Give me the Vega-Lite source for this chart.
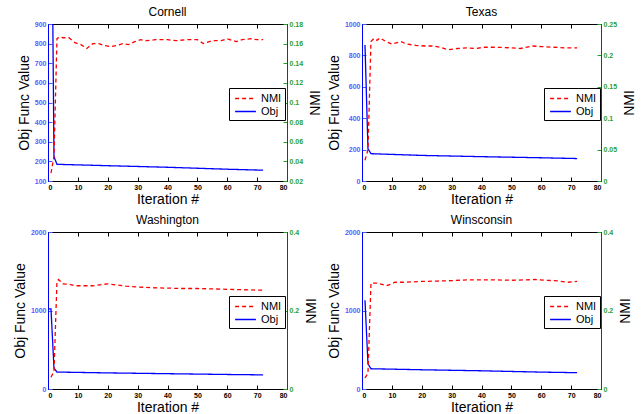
{
  "$schema": "https://vega.github.io/schema/vega-lite/v6.json",
  "padding": {"left": 12, "top": 5, "right": 0, "bottom": 0},
  "datasets": {
    "cornell": [
      {"iter": 1, "series": "Obj", "value": 2000}, {"iter": 2, "series": "Obj", "value": 224}, {"iter": 3, "series": "Obj", "value": 185},
      {"iter": 20, "series": "Obj", "value": 178}, {"iter": 40, "series": "Obj", "value": 170}, {"iter": 60, "series": "Obj", "value": 160}, {"iter": 72, "series": "Obj", "value": 155},
      {"iter": 1, "series": "NMI", "value": 0.028}, {"iter": 2, "series": "NMI", "value": 0.045}, {"iter": 3, "series": "NMI", "value": 0.165},
      {"iter": 4, "series": "NMI", "value": 0.167}, {"iter": 5, "series": "NMI", "value": 0.166}, {"iter": 7, "series": "NMI", "value": 0.166},
      {"iter": 9, "series": "NMI", "value": 0.161}, {"iter": 11, "series": "NMI", "value": 0.159}, {"iter": 13, "series": "NMI", "value": 0.155},
      {"iter": 15, "series": "NMI", "value": 0.16}, {"iter": 17, "series": "NMI", "value": 0.16}, {"iter": 19, "series": "NMI", "value": 0.158},
      {"iter": 21, "series": "NMI", "value": 0.157}, {"iter": 23, "series": "NMI", "value": 0.158}, {"iter": 25, "series": "NMI", "value": 0.16},
      {"iter": 27, "series": "NMI", "value": 0.159}, {"iter": 29, "series": "NMI", "value": 0.162}, {"iter": 31, "series": "NMI", "value": 0.164},
      {"iter": 33, "series": "NMI", "value": 0.163}, {"iter": 36, "series": "NMI", "value": 0.164}, {"iter": 40, "series": "NMI", "value": 0.164},
      {"iter": 43, "series": "NMI", "value": 0.163}, {"iter": 46, "series": "NMI", "value": 0.164}, {"iter": 50, "series": "NMI", "value": 0.164},
      {"iter": 52, "series": "NMI", "value": 0.16}, {"iter": 55, "series": "NMI", "value": 0.163}, {"iter": 58, "series": "NMI", "value": 0.163},
      {"iter": 60, "series": "NMI", "value": 0.165}, {"iter": 63, "series": "NMI", "value": 0.162}, {"iter": 65, "series": "NMI", "value": 0.164},
      {"iter": 68, "series": "NMI", "value": 0.165}, {"iter": 70, "series": "NMI", "value": 0.164}, {"iter": 72, "series": "NMI", "value": 0.164}
    ],
    "texas": [
      {"iter": 1, "series": "Obj", "value": 866}, {"iter": 2, "series": "Obj", "value": 205}, {"iter": 3, "series": "Obj", "value": 174},
      {"iter": 20, "series": "Obj", "value": 163}, {"iter": 40, "series": "Obj", "value": 155}, {"iter": 60, "series": "Obj", "value": 148}, {"iter": 72, "series": "Obj", "value": 143},
      {"iter": 1, "series": "NMI", "value": 0.033}, {"iter": 2, "series": "NMI", "value": 0.05}, {"iter": 3, "series": "NMI", "value": 0.222},
      {"iter": 4, "series": "NMI", "value": 0.227}, {"iter": 5, "series": "NMI", "value": 0.224}, {"iter": 6, "series": "NMI", "value": 0.228},
      {"iter": 8, "series": "NMI", "value": 0.222}, {"iter": 10, "series": "NMI", "value": 0.218}, {"iter": 13, "series": "NMI", "value": 0.222},
      {"iter": 15, "series": "NMI", "value": 0.218}, {"iter": 18, "series": "NMI", "value": 0.216}, {"iter": 21, "series": "NMI", "value": 0.215},
      {"iter": 24, "series": "NMI", "value": 0.215}, {"iter": 26, "series": "NMI", "value": 0.213}, {"iter": 29, "series": "NMI", "value": 0.209},
      {"iter": 32, "series": "NMI", "value": 0.211}, {"iter": 35, "series": "NMI", "value": 0.212}, {"iter": 38, "series": "NMI", "value": 0.211},
      {"iter": 41, "series": "NMI", "value": 0.213}, {"iter": 45, "series": "NMI", "value": 0.213}, {"iter": 50, "series": "NMI", "value": 0.212},
      {"iter": 53, "series": "NMI", "value": 0.211}, {"iter": 57, "series": "NMI", "value": 0.215}, {"iter": 60, "series": "NMI", "value": 0.214},
      {"iter": 64, "series": "NMI", "value": 0.213}, {"iter": 68, "series": "NMI", "value": 0.212}, {"iter": 72, "series": "NMI", "value": 0.212}
    ],
    "washington": [
      {"iter": 0.3, "series": "Obj", "value": 1020}, {"iter": 1, "series": "Obj", "value": 1020}, {"iter": 2, "series": "Obj", "value": 265}, {"iter": 3, "series": "Obj", "value": 216},
      {"iter": 20, "series": "Obj", "value": 205}, {"iter": 40, "series": "Obj", "value": 195}, {"iter": 60, "series": "Obj", "value": 185}, {"iter": 72, "series": "Obj", "value": 180},
      {"iter": 1, "series": "NMI", "value": 0.03}, {"iter": 2, "series": "NMI", "value": 0.045}, {"iter": 3, "series": "NMI", "value": 0.274},
      {"iter": 3.5, "series": "NMI", "value": 0.279}, {"iter": 5, "series": "NMI", "value": 0.268}, {"iter": 7, "series": "NMI", "value": 0.267},
      {"iter": 9, "series": "NMI", "value": 0.263}, {"iter": 12, "series": "NMI", "value": 0.263}, {"iter": 15, "series": "NMI", "value": 0.263},
      {"iter": 18, "series": "NMI", "value": 0.266}, {"iter": 20, "series": "NMI", "value": 0.268}, {"iter": 23, "series": "NMI", "value": 0.265},
      {"iter": 26, "series": "NMI", "value": 0.262}, {"iter": 30, "series": "NMI", "value": 0.26}, {"iter": 35, "series": "NMI", "value": 0.258},
      {"iter": 40, "series": "NMI", "value": 0.257}, {"iter": 45, "series": "NMI", "value": 0.256}, {"iter": 50, "series": "NMI", "value": 0.256},
      {"iter": 55, "series": "NMI", "value": 0.255}, {"iter": 60, "series": "NMI", "value": 0.254}, {"iter": 65, "series": "NMI", "value": 0.253},
      {"iter": 70, "series": "NMI", "value": 0.252}, {"iter": 72, "series": "NMI", "value": 0.252}
    ],
    "winsconsin": [
      {"iter": 1, "series": "Obj", "value": 1130}, {"iter": 2, "series": "Obj", "value": 320}, {"iter": 3, "series": "Obj", "value": 258},
      {"iter": 20, "series": "Obj", "value": 245}, {"iter": 40, "series": "Obj", "value": 232}, {"iter": 60, "series": "Obj", "value": 215}, {"iter": 72, "series": "Obj", "value": 208},
      {"iter": 1, "series": "NMI", "value": 0.028}, {"iter": 2, "series": "NMI", "value": 0.04}, {"iter": 3, "series": "NMI", "value": 0.27},
      {"iter": 5, "series": "NMI", "value": 0.27}, {"iter": 7, "series": "NMI", "value": 0.266}, {"iter": 8, "series": "NMI", "value": 0.263},
      {"iter": 10, "series": "NMI", "value": 0.268}, {"iter": 11, "series": "NMI", "value": 0.272}, {"iter": 14, "series": "NMI", "value": 0.272},
      {"iter": 17, "series": "NMI", "value": 0.273}, {"iter": 20, "series": "NMI", "value": 0.274}, {"iter": 25, "series": "NMI", "value": 0.275},
      {"iter": 30, "series": "NMI", "value": 0.276}, {"iter": 35, "series": "NMI", "value": 0.278}, {"iter": 40, "series": "NMI", "value": 0.278},
      {"iter": 45, "series": "NMI", "value": 0.278}, {"iter": 50, "series": "NMI", "value": 0.277}, {"iter": 55, "series": "NMI", "value": 0.278},
      {"iter": 58, "series": "NMI", "value": 0.279}, {"iter": 62, "series": "NMI", "value": 0.277}, {"iter": 66, "series": "NMI", "value": 0.275},
      {"iter": 69, "series": "NMI", "value": 0.272}, {"iter": 72, "series": "NMI", "value": 0.274}
    ]
  },
  "columns": 2,
  "spacing": {"column": 75, "row": 51},
  "bounds": "flush",
  "resolve": {"scale": {"color": "independent", "strokeDash": "independent"}},
  "concat": [
    {
      "title": "Cornell", "width": 239, "height": 157, "data": {"name": "cornell"},
      "layer": [
        {"mark": {"type": "line", "clip": true, "strokeWidth": 1.3}, "transform": [{"filter": "datum.series === 'Obj'"}],
         "encoding": {
           "x": {"field": "iter", "type": "quantitative", "scale": {"domain": [0, 80], "nice": false}, "axis": {"values": [0, 10, 20, 30, 40, 50, 60, 70, 80], "title": "Iteration #"}},
           "y": {"field": "value", "type": "quantitative", "scale": {"domain": [100, 900], "nice": false, "zero": false}, "axis": {"values": [100, 200, 300, 400, 500, 600, 700, 800, 900], "format": "d", "title": "Obj Func Value", "domainColor": "#0000ff", "tickColor": "#5555ff", "labelColor": "#5a5aff"}},
           "color": {"field": "series", "type": "nominal", "scale": {"domain": ["NMI", "Obj"], "range": ["#ff0000", "#0000ff"]}, "legend": {"orient": "none", "legendX": 181, "legendY": 64, "title": null}},
           "strokeDash": {"field": "series", "type": "nominal", "scale": {"domain": ["NMI", "Obj"], "range": [[4, 3], [1, 0]]}, "legend": {"orient": "none", "legendX": 181, "legendY": 64, "title": null}}
         }},
        {"mark": {"type": "line", "clip": true, "strokeWidth": 1.3}, "transform": [{"filter": "datum.series === 'NMI'"}],
         "encoding": {
           "x": {"field": "iter", "type": "quantitative", "axis": {"orient": "top", "labels": false, "title": null, "domain": false, "values": [0, 10, 20, 30, 40, 50, 60, 70, 80]}},
           "y": {"field": "value", "type": "quantitative", "scale": {"domain": [0.02, 0.18], "nice": false, "zero": false}, "axis": {"orient": "right", "values": [0.02, 0.04, 0.06, 0.08, 0.1, 0.12, 0.14, 0.16, 0.18], "format": "~g", "title": "NMI", "titleAngle": 270, "titlePadding": 20, "domainColor": "#0b4f4f", "tickColor": "#2ca02c", "labelColor": "#2ca02c"}},
           "color": {"field": "series", "type": "nominal", "legend": {"orient": "none", "legendX": 181, "legendY": 64, "title": null}},
           "strokeDash": {"field": "series", "type": "nominal", "legend": {"orient": "none", "legendX": 181, "legendY": 64, "title": null}}
         }}
      ],
      "resolve": {"scale": {"y": "independent"}, "axis": {"x": "independent"}}
    },
    {
      "title": "Texas", "width": 239, "height": 157, "data": {"name": "texas"},
      "layer": [
        {"mark": {"type": "line", "clip": true, "strokeWidth": 1.3}, "transform": [{"filter": "datum.series === 'Obj'"}],
         "encoding": {
           "x": {"field": "iter", "type": "quantitative", "scale": {"domain": [0, 80], "nice": false}, "axis": {"values": [0, 10, 20, 30, 40, 50, 60, 70, 80], "title": "Iteration #"}},
           "y": {"field": "value", "type": "quantitative", "scale": {"domain": [0, 1000], "nice": false}, "axis": {"values": [0, 200, 400, 600, 800, 1000], "format": "d", "title": "Obj Func Value", "domainColor": "#0000ff", "tickColor": "#5555ff", "labelColor": "#5a5aff"}},
           "color": {"field": "series", "type": "nominal", "scale": {"domain": ["NMI", "Obj"], "range": ["#ff0000", "#0000ff"]}, "legend": {"orient": "none", "legendX": 182, "legendY": 64, "title": null}},
           "strokeDash": {"field": "series", "type": "nominal", "scale": {"domain": ["NMI", "Obj"], "range": [[4, 3], [1, 0]]}, "legend": {"orient": "none", "legendX": 182, "legendY": 64, "title": null}}
         }},
        {"mark": {"type": "line", "clip": true, "strokeWidth": 1.3}, "transform": [{"filter": "datum.series === 'NMI'"}],
         "encoding": {
           "x": {"field": "iter", "type": "quantitative", "axis": {"orient": "top", "labels": false, "title": null, "domain": false, "values": [0, 10, 20, 30, 40, 50, 60, 70, 80]}},
           "y": {"field": "value", "type": "quantitative", "scale": {"domain": [0, 0.25], "nice": false}, "axis": {"orient": "right", "values": [0, 0.05, 0.1, 0.15, 0.2, 0.25], "format": "~g", "title": "NMI", "titleAngle": 270, "titlePadding": 20, "domainColor": "#0b4f4f", "tickColor": "#2ca02c", "labelColor": "#2ca02c"}},
           "color": {"field": "series", "type": "nominal", "legend": {"orient": "none", "legendX": 182, "legendY": 64, "title": null}},
           "strokeDash": {"field": "series", "type": "nominal", "legend": {"orient": "none", "legendX": 182, "legendY": 64, "title": null}}
         }}
      ],
      "resolve": {"scale": {"y": "independent"}, "axis": {"x": "independent"}}
    },
    {
      "title": "Washington", "width": 239, "height": 157, "data": {"name": "washington"},
      "layer": [
        {"mark": {"type": "line", "clip": true, "strokeWidth": 1.3}, "transform": [{"filter": "datum.series === 'Obj'"}],
         "encoding": {
           "x": {"field": "iter", "type": "quantitative", "scale": {"domain": [0, 80], "nice": false}, "axis": {"values": [0, 10, 20, 30, 40, 50, 60, 70, 80], "title": "Iteration #"}},
           "y": {"field": "value", "type": "quantitative", "scale": {"domain": [0, 2000], "nice": false}, "axis": {"values": [0, 1000, 2000], "format": "d", "title": "Obj Func Value", "domainColor": "#0000ff", "tickColor": "#5555ff", "labelColor": "#5a5aff"}},
           "color": {"field": "series", "type": "nominal", "scale": {"domain": ["NMI", "Obj"], "range": ["#ff0000", "#0000ff"]}, "legend": {"orient": "none", "legendX": 181, "legendY": 64, "title": null}},
           "strokeDash": {"field": "series", "type": "nominal", "scale": {"domain": ["NMI", "Obj"], "range": [[4, 3], [1, 0]]}, "legend": {"orient": "none", "legendX": 181, "legendY": 64, "title": null}}
         }},
        {"mark": {"type": "line", "clip": true, "strokeWidth": 1.3}, "transform": [{"filter": "datum.series === 'NMI'"}],
         "encoding": {
           "x": {"field": "iter", "type": "quantitative", "axis": {"orient": "top", "labels": false, "title": null, "domain": false, "values": [0, 10, 20, 30, 40, 50, 60, 70, 80]}},
           "y": {"field": "value", "type": "quantitative", "scale": {"domain": [0, 0.4], "nice": false}, "axis": {"orient": "right", "values": [0, 0.2, 0.4], "format": "~g", "title": "NMI", "titleAngle": 270, "titlePadding": 20, "domainColor": "#0b4f4f", "tickColor": "#2ca02c", "labelColor": "#2ca02c"}},
           "color": {"field": "series", "type": "nominal", "legend": {"orient": "none", "legendX": 181, "legendY": 64, "title": null}},
           "strokeDash": {"field": "series", "type": "nominal", "legend": {"orient": "none", "legendX": 181, "legendY": 64, "title": null}}
         }}
      ],
      "resolve": {"scale": {"y": "independent"}, "axis": {"x": "independent"}}
    },
    {
      "title": "Winsconsin", "width": 239, "height": 157, "data": {"name": "winsconsin"},
      "layer": [
        {"mark": {"type": "line", "clip": true, "strokeWidth": 1.3}, "transform": [{"filter": "datum.series === 'Obj'"}],
         "encoding": {
           "x": {"field": "iter", "type": "quantitative", "scale": {"domain": [0, 80], "nice": false}, "axis": {"values": [0, 10, 20, 30, 40, 50, 60, 70, 80], "title": "Iteration #"}},
           "y": {"field": "value", "type": "quantitative", "scale": {"domain": [0, 2000], "nice": false}, "axis": {"values": [0, 1000, 2000], "format": "d", "title": "Obj Func Value", "domainColor": "#0000ff", "tickColor": "#5555ff", "labelColor": "#5a5aff"}},
           "color": {"field": "series", "type": "nominal", "scale": {"domain": ["NMI", "Obj"], "range": ["#ff0000", "#0000ff"]}, "legend": {"orient": "none", "legendX": 182, "legendY": 64, "title": null}},
           "strokeDash": {"field": "series", "type": "nominal", "scale": {"domain": ["NMI", "Obj"], "range": [[4, 3], [1, 0]]}, "legend": {"orient": "none", "legendX": 182, "legendY": 64, "title": null}}
         }},
        {"mark": {"type": "line", "clip": true, "strokeWidth": 1.3}, "transform": [{"filter": "datum.series === 'NMI'"}],
         "encoding": {
           "x": {"field": "iter", "type": "quantitative", "axis": {"orient": "top", "labels": false, "title": null, "domain": false, "values": [0, 10, 20, 30, 40, 50, 60, 70, 80]}},
           "y": {"field": "value", "type": "quantitative", "scale": {"domain": [0, 0.4], "nice": false}, "axis": {"orient": "right", "values": [0, 0.2, 0.4], "format": "~g", "title": "NMI", "titleAngle": 270, "titlePadding": 20, "domainColor": "#0b4f4f", "tickColor": "#2ca02c", "labelColor": "#2ca02c"}},
           "color": {"field": "series", "type": "nominal", "legend": {"orient": "none", "legendX": 182, "legendY": 64, "title": null}},
           "strokeDash": {"field": "series", "type": "nominal", "legend": {"orient": "none", "legendX": 182, "legendY": 64, "title": null}}
         }}
      ],
      "resolve": {"scale": {"y": "independent"}, "axis": {"x": "independent"}}
    }
  ],
  "config": {
    "font": "Liberation Sans",
    "view": {"stroke": "black", "strokeWidth": 1},
    "axis": {"labelFontSize": 7, "labelFontWeight": "bold", "titleFontSize": 14, "titleFontWeight": "normal", "titleColor": "black", "grid": false, "tickSize": -4, "labelPadding": 6, "domainColor": "black", "tickColor": "black", "labelColor": "black", "titlePadding": 3},
    "axisX": {"titlePadding": 2},
    "title": {"fontSize": 12, "fontWeight": "normal", "offset": 1},
    "legend": {"padding": 3, "strokeColor": "black", "fillColor": "white", "labelFontSize": 11, "symbolStrokeWidth": 1.3, "symbolSize": 169, "symbolType": "M-1.6,0H1.6", "symbolOffset": 6, "rowPadding": 0, "labelOffset": 8}
  }
}
